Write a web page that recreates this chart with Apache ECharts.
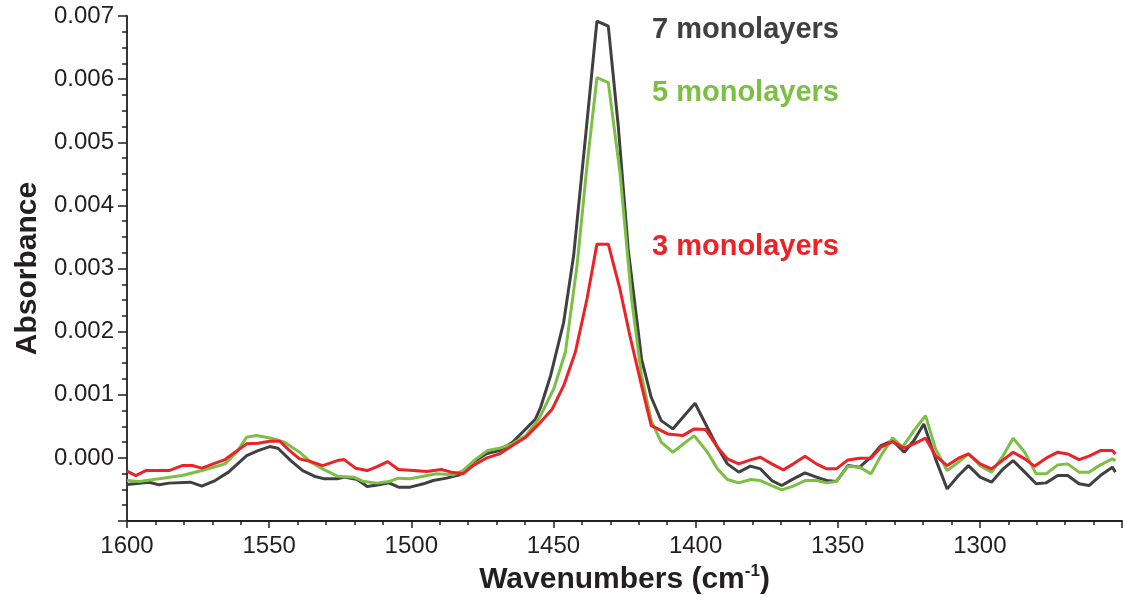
<!DOCTYPE html>
<html>
<head>
<meta charset="utf-8">
<script src="https://cdn.jsdelivr.net/npm/echarts@6/dist/echarts.min.js"></script>
<style>
  html, body { margin: 0; padding: 0; background: #fff; }
  #chart { width: 1125px; height: 602px; }
</style>
</head>
<body>
<div id="chart"></div>
<script>
// wavenumbers (cm-1) and absorbance
const wn7 = [1600, 1592.2, 1588.7, 1585.2, 1577.7, 1573.7, 1569.0, 1564.3, 1557.9, 1553.9, 1549.8, 1546.9, 1542.4, 1538.2, 1534.1, 1530.6, 1526.0, 1523.6, 1519.0, 1515.5, 1511.4, 1507.9, 1504.5, 1500.4, 1495.7, 1492.3, 1487.6, 1483.0, 1478.3, 1473.7, 1469.0, 1464.4, 1459.7, 1456.3, 1454.5, 1451.0, 1446.4, 1442.9, 1438.8, 1434.7, 1430.7, 1427.2, 1423.7, 1419.0, 1415.6, 1412.1, 1408.0, 1400.2, 1392.3, 1388.8, 1384.8, 1380.7, 1377.2, 1373.2, 1369.7, 1365.6, 1361.5, 1357.5, 1353.9, 1350.5, 1346.4, 1342.3, 1338.3, 1334.8, 1330.7, 1326.6, 1323.2, 1319.7, 1315.6, 1311.5, 1307.5, 1304.0, 1299.9, 1295.9, 1291.8, 1288.3, 1284.2, 1280.2, 1276.7, 1272.6, 1269.1, 1265.1, 1261.6, 1257.6, 1253.4, 1252.3];
const abs7 = [-0.00042, -0.000385, -0.000427, -0.0004, -0.000385, -0.000448, -0.000359, -0.000226, 0.000036, 0.000116, 0.000179, 0.000153, -0.000043, -0.000201, -0.00029, -0.000332, -0.000332, -0.000305, -0.000343, -0.000454, -0.000427, -0.000396, -0.000464, -0.000464, -0.000411, -0.000359, -0.000321, -0.000269, -0.000068, 0.000063, 0.000116, 0.000248, 0.000459, 0.000617, 0.000802, 0.001302, 0.002147, 0.003201, 0.005047, 0.006919, 0.00684, 0.005258, 0.003307, 0.001566, 0.00096, 0.00059, 0.000459, 0.000865, 0.000169, -0.000095, -0.000226, -0.000131, -0.000174, -0.000359, -0.000438, -0.000332, -0.000237, -0.000305, -0.000359, -0.000375, -0.000122, -0.000147, 0.000011, 0.000195, 0.000274, 0.00009, 0.000274, 0.000538, -0.000016, -0.000491, -0.00028, -0.000122, -0.000305, -0.000385, -0.000174, -0.000043, -0.000226, -0.000411, -0.000396, -0.00028, -0.00028, -0.000411, -0.000438, -0.00028, -0.000147, -0.000226];

const wn5 = [1600, 1595.7, 1588.7, 1580.6, 1573.6, 1565.5, 1561.4, 1557.9, 1554.5, 1549.2, 1544.6, 1539.3, 1535.3, 1531.2, 1526.0, 1520.2, 1516.7, 1512.0, 1507.9, 1504.5, 1500.4, 1495.7, 1491.1, 1485.3, 1481.8, 1477.2, 1473.1, 1469.0, 1464.4, 1459.7, 1455.1, 1449.9, 1445.8, 1441.7, 1438.2, 1434.7, 1430.7, 1426.6, 1422.5, 1419.0, 1415.6, 1412.1, 1408.0, 1400.5, 1395.8, 1392.3, 1388.8, 1384.8, 1380.7, 1377.2, 1373.2, 1369.7, 1365.6, 1361.5, 1357.5, 1353.9, 1350.5, 1346.4, 1342.3, 1338.3, 1334.8, 1330.7, 1327.2, 1323.2, 1319.1, 1315.6, 1311.5, 1307.5, 1304.0, 1299.9, 1295.9, 1291.8, 1288.3, 1284.2, 1280.2, 1276.7, 1272.6, 1269.1, 1265.1, 1261.6, 1257.6, 1253.4, 1252.3];
const abs5 = [-0.000359, -0.000375, -0.000332, -0.00028, -0.000201, -0.000095, 0.00009, 0.000328, 0.000353, 0.000312, 0.000248, 0.00009, -0.000068, -0.000174, -0.00029, -0.000305, -0.000375, -0.0004, -0.000375, -0.000321, -0.000332, -0.00029, -0.000253, -0.000269, -0.000201, -0.000016, 0.000116, 0.000153, 0.000222, 0.000353, 0.000617, 0.001092, 0.001672, 0.003043, 0.004625, 0.006024, 0.005945, 0.004521, 0.002516, 0.001302, 0.00059, 0.000248, 0.00009, 0.000353, 0.00009, -0.000174, -0.000343, -0.000396, -0.000343, -0.000359, -0.000438, -0.000506, -0.000448, -0.000359, -0.000359, -0.000396, -0.000375, -0.000131, -0.000147, -0.000253, 0.000036, 0.000316, 0.000169, 0.000432, 0.000669, 0.000142, -0.000201, -0.000068, 0.000063, -0.000122, -0.000226, 0.000036, 0.000312, 0.00009, -0.000253, -0.000253, -0.000111, -0.000095, -0.000226, -0.000226, -0.000111, -0.000016, -0.000043];

const wn3 = [1600, 1596.9, 1593.4, 1585.2, 1580.6, 1577.1, 1573.6, 1569.0, 1565.5, 1562.0, 1557.9, 1553.9, 1549.8, 1546.3, 1542.8, 1539.3, 1535.3, 1531.2, 1526.0, 1523.6, 1519.6, 1515.5, 1512.0, 1508.3, 1504.5, 1499.2, 1494.6, 1489.4, 1485.9, 1481.8, 1478.3, 1473.7, 1469.0, 1464.4, 1459.7, 1455.1, 1450.4, 1446.4, 1442.3, 1438.2, 1434.7, 1430.7, 1426.6, 1423.1, 1419.0, 1415.6, 1409.8, 1404.5, 1400.5, 1396.4, 1392.3, 1388.8, 1384.8, 1380.7, 1377.2, 1373.2, 1369.1, 1365.6, 1361.5, 1357.5, 1353.9, 1350.5, 1346.4, 1342.3, 1338.3, 1334.8, 1330.7, 1326.6, 1323.2, 1319.1, 1315.6, 1311.5, 1307.5, 1304.0, 1299.9, 1295.9, 1291.8, 1288.3, 1284.2, 1280.8, 1276.7, 1272.6, 1269.1, 1265.1, 1261.6, 1257.6, 1253.4, 1252.3];
const abs3 = [-0.00021, -0.00028, -0.000201, -0.000201, -0.000122, -0.000122, -0.000163, -0.000084, -0.000027, 0.00009, 0.000222, 0.000233, 0.000264, 0.000264, 0.000116, -0.000016, -0.000059, -0.000122, -0.000043, -0.000027, -0.000163, -0.000201, -0.000138, -0.000059, -0.000185, -0.000201, -0.000217, -0.000185, -0.000226, -0.000253, -0.000122, -0.000005, 0.000063, 0.000195, 0.000328, 0.000538, 0.000775, 0.001144, 0.001672, 0.002516, 0.003386, 0.003386, 0.002674, 0.001935, 0.001144, 0.000511, 0.00038, 0.000353, 0.000459, 0.000448, 0.000169, -0.000016, -0.000095, -0.000032, 0.000011, -0.000095, -0.00019, -0.000095, 0.000027, -0.000095, -0.000174, -0.000174, -0.000032, -0.000005, -0.000005, 0.000169, 0.000258, 0.000153, 0.000222, 0.000312, 0.000036, -0.000122, -0.000005, 0.000063, -0.000095, -0.000174, -0.000032, 0.00009, -0.000016, -0.000131, -0.000005, 0.00009, 0.000063, -0.000027, 0.000027, 0.000116, 0.000116, 0.000063];

const seriesNames = ['7 monolayers', '5 monolayers', '3 monolayers'];
const colors = ['#404040', '#7cbf45', '#ec2227'];

const zip = (xs, ys) => xs.map((x, i) => [x, ys[i]]);

const chart = echarts.init(document.getElementById('chart'));
const font = '"Liberation Sans", Arial, sans-serif';

const option = {
  animation: false,
  grid: { left: 127, top: 16, width: 1004, height: 505 },
  xAxis: {
    type: 'value',
    inverse: true,
    min: 1250,
    max: 1600,
    interval: 50,
    name: '{n|Wavenumbers (cm}{s|-1}{n|)}',
    nameLocation: 'middle',
    nameGap: 42,
    nameTextStyle: {
      rich: {
        n: { fontFamily: font, fontWeight: 'bold', fontSize: 30, color: '#231f20', lineHeight: 34 },
        s: { fontFamily: font, fontWeight: 'bold', fontSize: 17, color: '#231f20', verticalAlign: 'top', lineHeight: 34, padding: [0, 0, 11, 0] }
      }
    },
    axisLine: { onZero: false, lineStyle: { color: '#231f20', width: 1.8 } },
    axisTick: { length: 7, lineStyle: { color: '#231f20', width: 1.5 } },
    minorTick: { show: true, splitNumber: 5, length: 4, lineStyle: { color: '#231f20', width: 1.5 } },
    splitLine: { show: false },
    axisLabel: {
      fontFamily: font, fontSize: 24, color: '#231f20', margin: 13,
      formatter: v => (v === 1250 ? '' : String(v))
    }
  },
  yAxis: {
    type: 'value',
    min: -0.001,
    max: 0.007,
    interval: 0.001,
    name: 'Absorbance',
    nameLocation: 'middle',
    nameGap: 82,
    nameTextStyle: { fontFamily: font, fontWeight: 'bold', fontSize: 30, color: '#231f20' },
    axisLine: { show: true, lineStyle: { color: '#231f20', width: 1.8 } },
    axisTick: { show: true, length: 9, lineStyle: { color: '#231f20', width: 1.5 } },
    minorTick: { show: true, splitNumber: 4, length: 5, lineStyle: { color: '#231f20', width: 1.5 } },
    splitLine: { show: false },
    axisLabel: {
      fontFamily: font, fontSize: 24, color: '#231f20', margin: 13,
      formatter: v => (v < -0.0005 ? '' : v.toFixed(3))
    }
  },
  series: [
    { name: seriesNames[0], type: 'line', data: zip(wn7, abs7), z: 2 },
    { name: seriesNames[1], type: 'line', data: zip(wn5, abs5), z: 3 },
    { name: seriesNames[2], type: 'line', data: zip(wn3, abs3), z: 4 }
  ].map((s, i) => Object.assign(s, {
    showSymbol: false,
    symbol: 'none',
    color: colors[i],
    lineStyle: { color: colors[i], width: 3 }
  })),
  graphic: seriesNames.map((t, i) => ({
    type: 'text',
    left: 652,
    top: [15, 78, 232][i],
    style: { text: t, fill: colors[i], font: 'bold 29px ' + font }
  }))
};

chart.setOption(option);
</script>
</body>
</html>
